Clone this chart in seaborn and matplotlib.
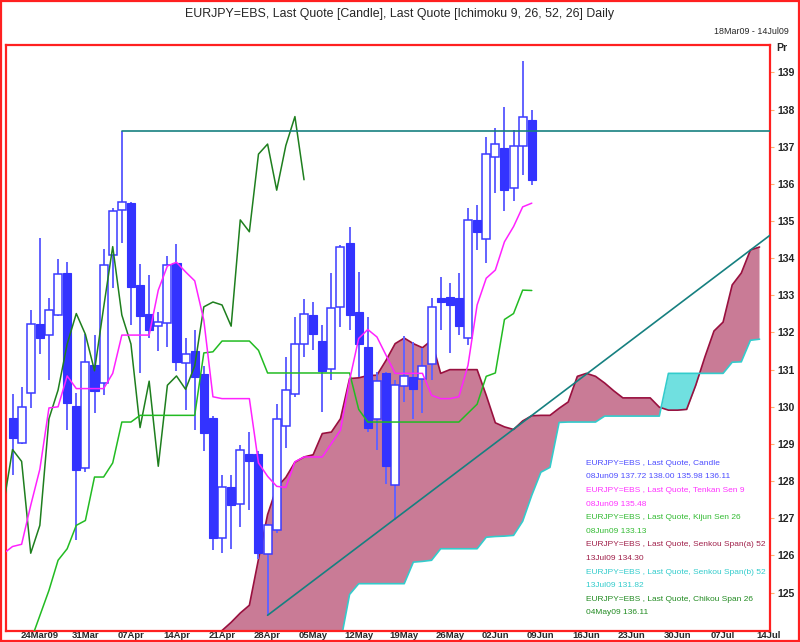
import numpy as np
import pandas as pd
import matplotlib
matplotlib.use("Agg")
import matplotlib.pyplot as plt
import seaborn as sns
from matplotlib.patches import Rectangle

sns.set_style("white")
plt.rcParams["font.family"] = ["Liberation Sans", "DejaVu Sans"]

# ---------------- data ----------------
start_date = "2009-03-18"
end_date = "2009-07-14"

candle_first = 1  # 19Mar09
opens = [129.71, 129.03, 130.37, 132.22, 131.92, 132.48, 133.61, 130.02, 128.36, 131.12,
         130.63, 134.08, 135.30, 135.49, 133.29, 132.51, 132.18, 132.26, 133.86, 131.17,
         131.50, 130.87, 129.71, 126.48, 127.84, 127.38, 128.74, 128.74, 126.05, 126.69,
         129.48, 130.34, 131.69, 132.47, 131.77, 131.03, 132.69, 134.41, 132.56, 131.61,
         129.66, 130.91, 127.89, 130.56, 130.79, 130.74, 131.15, 132.94, 132.96, 132.93,
         131.86, 135.03, 134.51, 136.73, 136.97, 135.90, 137.02, 137.72]
highs = [130.34, 130.54, 132.60, 134.55, 132.93, 133.97, 133.90, 130.36, 131.95, 131.93,
         134.26, 135.35, 137.42, 135.52, 133.83, 133.56, 132.56, 134.06, 134.37, 131.84,
         132.06, 131.10, 129.75, 128.16, 128.16, 128.97, 129.32, 128.80, 126.85, 130.07,
         131.33, 132.41, 132.90, 132.83, 132.20, 133.61, 134.35, 134.85, 133.63, 132.42,
         130.94, 130.95, 130.72, 131.90, 131.75, 131.57, 132.92, 133.50, 133.32, 133.59,
         135.34, 135.43, 137.27, 137.50, 138.06, 137.45, 139.31, 138.00]
lows = [128.16, 129.00, 129.97, 131.42, 130.73, 132.45, 129.37, 126.41, 128.25, 129.84,
        130.31, 133.19, 134.41, 132.20, 130.91, 131.84, 131.50, 131.61, 130.97, 129.91,
        129.37, 128.81, 126.14, 126.06, 126.18, 126.76, 127.21, 125.90, 124.39, 126.60,
        128.90, 130.27, 131.33, 131.52, 129.85, 130.72, 132.14, 132.06, 130.80, 129.32,
        128.85, 127.93, 126.96, 130.13, 129.68, 129.82, 130.72, 132.06, 131.44, 131.93,
        131.66, 134.22, 133.86, 135.75, 135.28, 135.55, 136.24, 135.98]
closes = [129.16, 130.00, 132.22, 131.84, 132.60, 133.57, 130.09, 128.29, 131.21, 130.43,
          133.81, 135.27, 135.52, 133.23, 132.44, 132.08, 132.29, 133.81, 131.21, 131.42,
          130.79, 129.30, 126.48, 127.84, 127.35, 128.85, 128.53, 126.06, 126.81, 129.68,
          130.45, 131.69, 132.51, 131.95, 130.97, 132.67, 134.31, 132.47, 131.69, 129.44,
          130.69, 128.40, 130.58, 130.83, 130.47, 131.10, 132.69, 132.82, 132.74, 132.17,
          135.03, 134.71, 136.80, 137.07, 135.83, 137.03, 137.81, 136.11]

tenkan_first = 0
tenkan = [126.05, 126.24, 126.30, 127.35, 128.32, 129.97, 130.00, 130.83, 130.49, 130.49,
          130.49, 130.49, 130.90, 131.93, 131.93, 131.93, 131.93, 133.14, 133.79, 133.89,
          133.63, 133.39, 132.33, 130.27, 130.22, 130.22, 130.22, 130.22, 128.49, 128.13,
          127.86, 127.83, 128.52, 128.65, 128.65, 128.65, 129.01, 129.37, 130.72, 131.84,
          132.08, 131.88, 131.39, 130.90, 130.90, 130.90, 130.90, 130.31, 130.22, 130.22,
          130.27, 131.12, 132.74, 133.46, 133.68, 134.44, 134.85, 135.38, 135.48]

kijun_first = 3
kijun = [123.70, 124.38, 125.06, 125.87, 126.18, 126.81, 126.94, 128.11, 128.11, 128.49,
         129.59, 129.59, 129.77, 129.77, 129.77, 129.77, 129.77, 129.77, 129.77, 131.45,
         131.48, 131.77, 131.77, 131.77, 131.77, 131.52, 130.91, 130.91, 130.91, 130.91,
         130.91, 130.91, 130.91, 130.91, 130.91, 130.91, 129.93, 129.59, 129.59, 129.59,
         129.59, 129.59, 129.59, 129.59, 129.59, 129.59, 129.59, 129.59, 129.83, 130.07,
         130.82, 130.91, 132.35, 132.51, 133.14, 133.13]

chikou_first = 0
chikou = [127.35, 128.85, 128.53, 126.06, 126.81, 129.68, 130.45, 131.69, 132.51, 131.95,
          130.97, 132.67, 134.31, 132.47, 131.69, 129.44, 130.69, 128.40, 130.58, 130.83,
          130.47, 131.10, 132.69, 132.82, 132.74, 132.17, 135.03, 134.71, 136.80, 137.07,
          135.83, 137.03, 137.81, 136.11]

span_a_first = 24
span_a = [123.98, 124.20, 124.45, 124.66, 125.90, 127.10, 127.83, 128.10, 128.51, 128.65,
          128.71, 129.28, 129.32, 129.68, 130.76, 130.78, 130.84, 130.85, 131.25, 131.70,
          131.85, 131.70, 131.59, 131.79, 130.90, 131.00, 131.00, 131.00, 131.00, 130.31,
          129.57, 129.46, 129.39, 129.62, 129.76, 129.77, 129.77, 129.96, 130.13, 130.82,
          130.90, 130.82, 130.64, 130.43, 130.24, 130.24, 130.24, 130.24, 129.99, 129.91,
          129.91, 129.93, 130.58, 131.34, 132.04, 132.28, 133.28, 133.60, 134.22, 134.30]

span_b_first = 36
span_b = [123.30, 123.66, 124.95, 125.24, 125.24, 125.24, 125.24, 125.24, 125.24, 125.82,
          125.84, 125.87, 126.18, 126.18, 126.18, 126.18, 126.18, 126.49, 126.51, 126.52,
          126.54, 126.92, 127.62, 128.24, 128.37, 129.58, 129.59, 129.59, 129.59, 129.59,
          129.75, 129.75, 129.75, 129.75, 129.75, 129.75, 129.75, 130.90, 130.90, 130.90,
          130.90, 130.90, 130.90, 130.90, 131.20, 131.21, 131.79, 131.82]

week_tick_first = 4
week_labels = ["24Mar09", "31Mar", "07Apr", "14Apr", "21Apr", "28Apr", "05May", "12May",
               "19May", "26May", "02Jun", "09Jun", "16Jun", "23Jun", "30Jun", "07Jul", "14Jul"]
price_ticks = list(range(125, 140))

resistance_start = 13
resistance_level = 137.42
trend_x = [29, 84.6]
trend_y = [124.39, 134.70]

title = "EURJPY=EBS, Last Quote [Candle], Last Quote [Ichimoku 9, 26, 52, 26] Daily"
date_range_label = "18Mar09 - 14Jul09"
legend_lines = [
    ("EURJPY=EBS , Last Quote, Candle", "#4D4DFF"),
    ("08Jun09 137.72 138.00 135.98 136.11", "#4D4DFF"),
    ("EURJPY=EBS , Last Quote, Tenkan Sen 9", "#FF33FF"),
    ("08Jun09 135.48", "#FF33FF"),
    ("EURJPY=EBS , Last Quote, Kijun Sen 26", "#33BB33"),
    ("08Jun09 133.13", "#33BB33"),
    ("EURJPY=EBS , Last Quote, Senkou Span(a) 52", "#A0204A"),
    ("13Jul09 134.30", "#A0204A"),
    ("EURJPY=EBS , Last Quote, Senkou Span(b) 52", "#33CCCC"),
    ("13Jul09 131.82", "#33CCCC"),
    ("EURJPY=EBS , Last Quote, Chikou Span 26", "#228B22"),
    ("04May09 136.11", "#228B22"),
]

# ---------------- figure ----------------
W, H = 800, 642
fig = plt.figure(figsize=(W / 100, H / 100), dpi=100)
L, R, T, B = 5.5, 770, 44.5, 630.5
ax = fig.add_axes([L / W, 1 - B / H, (R - L) / W, (B - T) / H])
ax.set_facecolor("white")

ylo, yhi = 123.98, 139.75
ax.set_xlim(0.23, 84.15)
ax.set_ylim(ylo, yhi)

# cloud
a_idx = np.arange(span_a_first, span_a_first + len(span_a))
a_vals = np.array(span_a)
b_full = np.full(len(span_a), ylo - 1.0)
b_off = span_b_first - span_a_first
b_full[b_off:] = span_b
ax.fill_between(a_idx, a_vals, b_full, where=a_vals >= b_full, interpolate=True,
                color="#C97B96", linewidth=0, zorder=1)
ax.fill_between(a_idx, a_vals, b_full, where=a_vals < b_full, interpolate=True,
                color="#70E0E0", linewidth=0, zorder=1)

def line(first, vals, color, lw=1.1, z=2):
    df = pd.DataFrame({"i": np.arange(first, first + len(vals)), "v": vals})
    sns.lineplot(data=df, x="i", y="v", ax=ax, color=color, linewidth=lw, zorder=z)

line(span_a_first, span_a, "#99103F", 1.2, 2)
line(span_b_first, span_b, "#33CCCC", 1.2, 2)

# candles
ci = np.arange(candle_first, candle_first + len(opens))
o = np.array(opens); c = np.array(closes)
ax.vlines(ci, lows, highs, color="#6262FF", linewidth=1.4, zorder=3)
up = c >= o
ax.bar(ci[up], (c - o)[up], bottom=o[up], width=0.88, color="white",
       edgecolor="#3B3BFF", linewidth=1.1, zorder=4)
ax.bar(ci[~up], (o - c)[~up], bottom=c[~up], width=0.88, color="#3333FF",
       edgecolor="#3333FF", linewidth=0.8, zorder=4)

# ichimoku lines
line(chikou_first, chikou, "#1E7F1E", 1.1, 5)
line(kijun_first, kijun, "#22BB22", 1.1, 5)
line(tenkan_first, tenkan, "#FF22FF", 1.1, 5)

# drawn lines
ax.plot([resistance_start, ax.get_xlim()[1]], [resistance_level, resistance_level],
        color="#168080", linewidth=1.2, zorder=6)
ax.plot(trend_x, trend_y, color="#168080", linewidth=1.2, zorder=6)

# axes styling
for s in ax.spines.values():
    s.set_color("#FF2020")
    s.set_linewidth(1.6)
ax.set_xlabel("")
ax.set_ylabel("")
ax.yaxis.tick_right()
ax.set_yticks(price_ticks)
ax.set_yticklabels([str(v) for v in price_ticks], fontsize=7.6, fontweight="bold")
ax.tick_params(axis="y", direction="out", length=3, color="#FFB070", pad=2.5)
xt = np.arange(week_tick_first, week_tick_first + 5 * len(week_labels), 5)
ax.set_xticks(xt)
ax.set_xticklabels(week_labels, fontsize=6.8, fontweight="bold")
ax.tick_params(axis="x", direction="in", length=7, color="#FFCC99", pad=0.5)
ax.grid(False)

# texts
fig.text(0.5, 1 - 14 / H, title, ha="center", va="center", fontsize=8.9)
fig.text(789 / W, 1 - 32 / H, date_range_label, ha="right", va="center", fontsize=6.4)
fig.text(776 / W, 1 - 48 / H, "Pr", ha="left", va="center", fontsize=7.6, fontweight="bold")
for k, (txt, col) in enumerate(legend_lines):
    fig.text(586.5 / W, 1 - (463.3 + 13.6 * k) / H, txt, ha="left", va="center",
             fontsize=6.0, color=col)

fig.patches.append(Rectangle((0.0008, 0.001), 0.998, 0.997, transform=fig.transFigure,
                             fill=False, edgecolor="#FF2020", linewidth=1.6))

fig.savefig("out.png", dpi=100)
